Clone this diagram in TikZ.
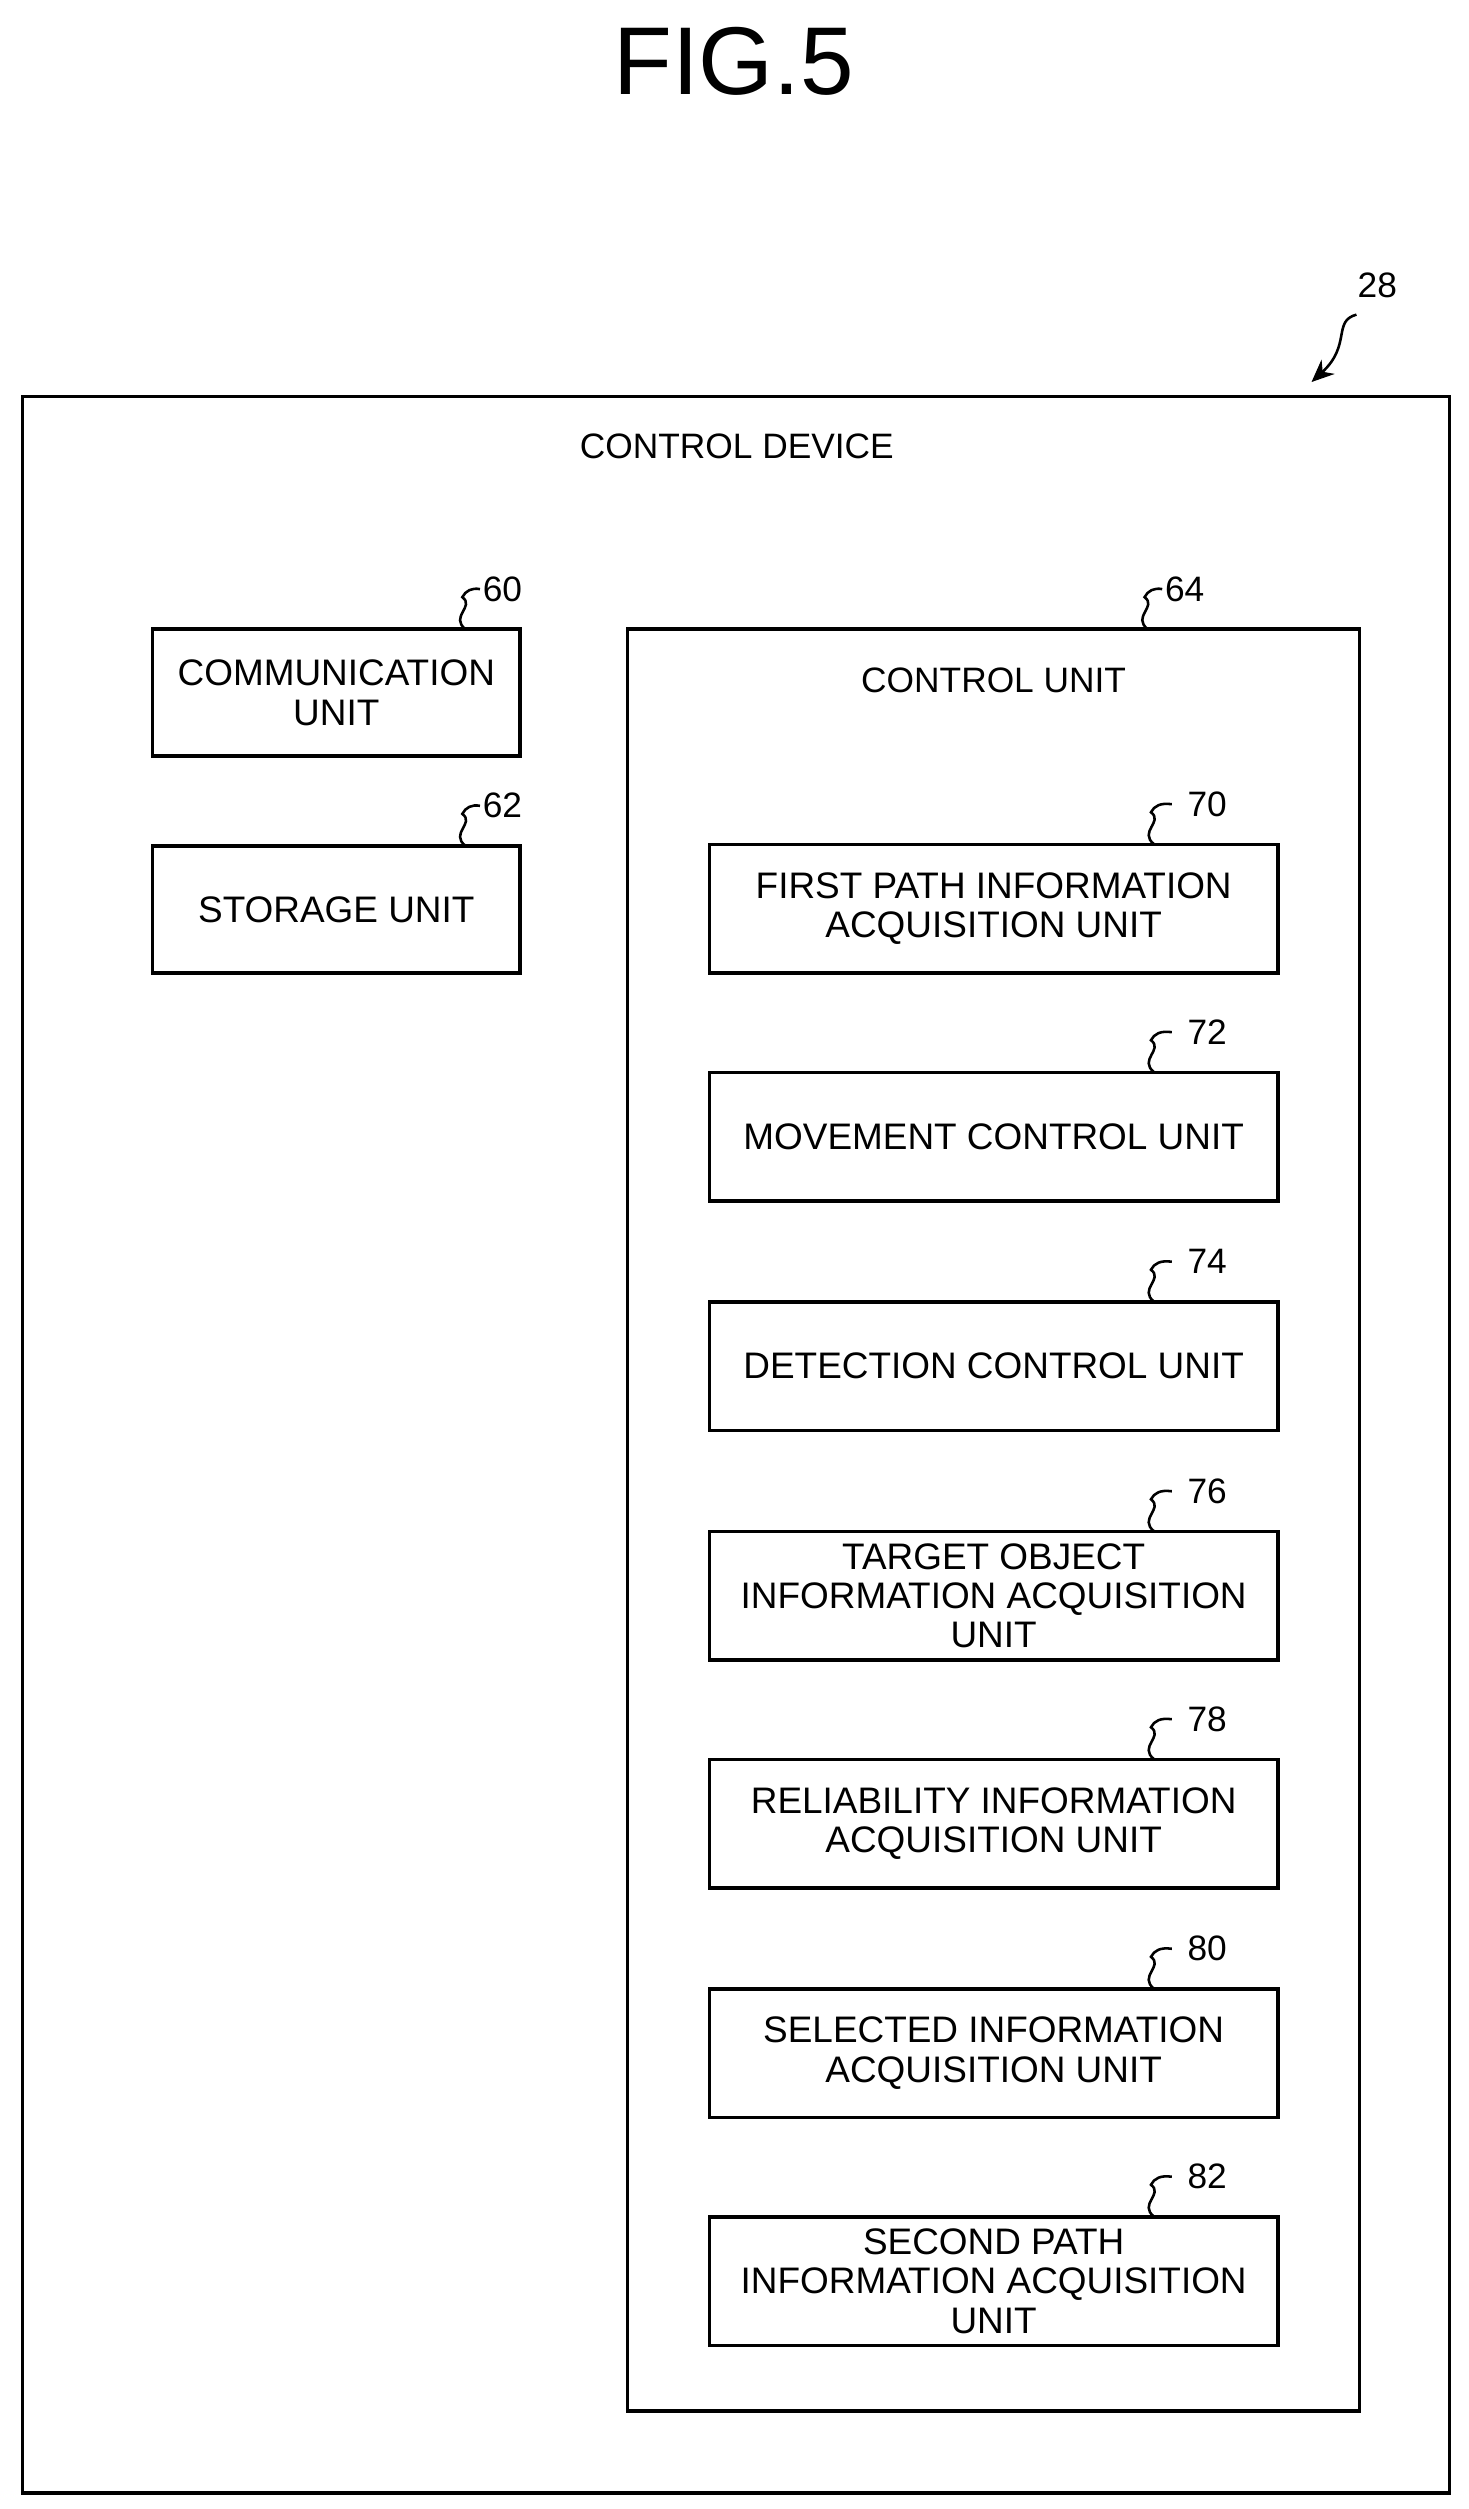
\documentclass[tikz,border=0pt]{standalone}
\usepackage{fontspec}
\usetikzlibrary{arrows.meta}
\setmainfont{Liberation Sans}
\begin{document}
\begin{tikzpicture}[x=1pt,y=-1pt,
  box/.style={draw,line width=2.2pt},
  unit/.style={draw,line width=2.2pt,minimum width=354pt,minimum height=80pt,align=center,font=\fontsize{23}{24.5}\selectfont,inner sep=0pt},
  lbl/.style={font=\fontsize{22}{24}\selectfont},
  sq/.style={line width=1.6pt}]
\useasboundingbox (0,0) rectangle (915,1563);
\node[font=\fontsize{60}{64}\selectfont] (title) at (457,38) {FIG.5};
\draw[box] (14,247) rectangle (903,1553);
\node[lbl] (cd) at (459,278) {CONTROL DEVICE};
\node[lbl] (n28) at (858,178) {28};
\coordinate (a28) at (817,238);
\draw[sq,-{Stealth[length=14pt,width=12pt]}] (845,196) .. controls (830,200) and (842,215) .. (a28);
% left units
\node[unit,minimum width=229pt,minimum height=79pt] (u60) at (209.5,431.5) {COMMUNICATION\\UNIT};
\node[unit,minimum width=229pt,minimum height=79pt] (u62) at (209.5,566.5) {STORAGE UNIT};
\node[lbl] (n60) at (313,367) {60};
\node[lbl] (n62) at (313,502) {62};
\draw[sq] (290,392) .. controls (280,384) and (296,378) .. (288,372) .. controls (290,368) and (294,366) .. (299,367);
\draw[sq] (290,527) .. controls (280,519) and (296,513) .. (288,507) .. controls (290,503) and (294,501) .. (299,502);
% control unit
\draw[box] (391,392) rectangle (847,1502);
\node[lbl] (cu) at (619,424) {CONTROL UNIT};
\node[lbl] (n64) at (738,367) {64};
\draw[sq] (715,392) .. controls (705,384) and (721,378) .. (713,372) .. controls (715,368) and (719,366) .. (724,367);
\foreach \t/\c/\txt in {526/70/FIRST PATH INFORMATION\\ACQUISITION UNIT,
  668/72/MOVEMENT CONTROL UNIT,
  811/74/DETECTION CONTROL UNIT,
  954/76/TARGET OBJECT\\INFORMATION ACQUISITION\\UNIT,
  1096/78/RELIABILITY INFORMATION\\ACQUISITION UNIT,
  1239/80/SELECTED INFORMATION\\ACQUISITION UNIT,
  1381/82/SECOND PATH\\INFORMATION ACQUISITION\\UNIT}{
  \node[unit] (u\c) at (619,\t+40) {\txt};
  \node[lbl] (n\c) at (752,\t-25) {\c};
  \draw[sq] (719,\t) .. controls (709,\t-8) and (725,\t-14) .. (717,\t-20) .. controls (719,\t-24) and (723,\t-26) .. (730,\t-25);
}
\end{tikzpicture}
\end{document}
